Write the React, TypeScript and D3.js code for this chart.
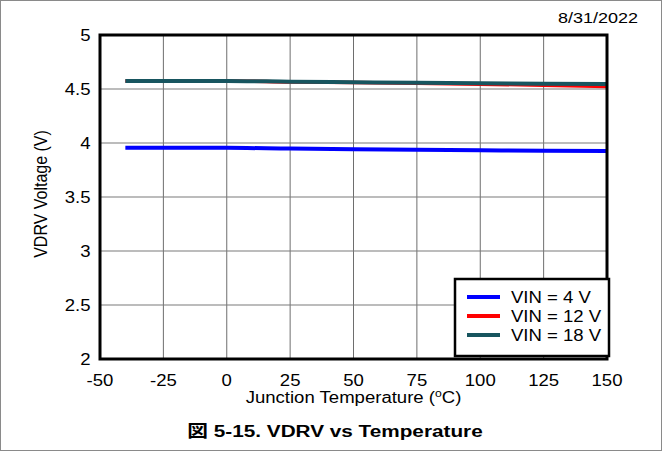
import React from "react";
import * as d3 from "d3";

const W = 662;
const H = 451;

const temps = [-40, 0, 25, 50, 75, 100, 125, 150];
const vin4 = [3.955, 3.955, 3.948, 3.943, 3.938, 3.933, 3.928, 3.927];
const vin12 = [4.575, 4.575, 4.565, 4.56, 4.553, 4.545, 4.535, 4.522];
const vin18 = [4.575, 4.575, 4.568, 4.563, 4.558, 4.554, 4.549, 4.546];

const seriesNames = ["VIN = 4 V", "VIN = 12 V", "VIN = 18 V"];
const seriesColors = ["#0000ff", "#ff0000", "#17555f"];
const seriesValues = [vin4, vin12, vin18];

const xTicks = [-50, -25, 0, 25, 50, 75, 100, 125, 150];
const yTicks = [2, 2.5, 3, 3.5, 4, 4.5, 5];

const FONT = "Arial, 'Liberation Sans', Helvetica, sans-serif";
const SX = 1.16; // reference text is a bit wider than Arial

type LabelProps = {
  x: number;
  y: number;
  size?: number;
  anchor?: string;
  bold?: boolean;
  sx?: number;
  children?: React.ReactNode;
};

// text stretched horizontally around its anchor point
const Label = ({ x, y, size = 16, anchor = "start", bold = false, sx = SX, children }: LabelProps) => (
  <text
    transform={`translate(${x},${y}) scale(${sx},1)`}
    fontSize={size}
    fontWeight={bold ? "bold" : "normal"}
    textAnchor={anchor}
    fill="#000"
  >
    {children}
  </text>
);

const App = () => {
  const margin = { left: 100, right: 55, top: 35, bottom: 92 };

  const x = d3
    .scaleLinear()
    .domain([-50, 150])
    .range([margin.left, W - margin.right]);
  const y = d3
    .scaleLinear()
    .domain([2, 5])
    .range([H - margin.bottom, margin.top]);

  const line = d3
    .line<number>()
    .x((d, i) => x(temps[i]))
    .y(d => y(d))
    .curve(d3.curveMonotoneX);

  const x0 = x(-50), x1 = x(150), y0 = y(2), y1 = y(5);
  const lgX = 455, lgY = 279, lgW = 154, lgH = 77;

  return (
    <svg
      width={W}
      height={H}
      style={{ position: "absolute", left: 0, top: 0, background: "#fff" }}
      fontFamily={FONT}
    >
      <rect x={0.5} y={0.5} width={W - 1} height={H - 1} fill="#fff" stroke="#8a8a8a" />

      <Label x={638} y={23} size={15} anchor="end" sx={1.2}>8/31/2022</Label>

      {/* grid */}
      {xTicks.slice(1, -1).map(t => (
        <line key={"gx" + t} x1={x(t)} x2={x(t)} y1={y1} y2={y0} stroke="#6e6e6e" strokeWidth={1} />
      ))}
      {yTicks.slice(1, -1).map(t => (
        <line key={"gy" + t} x1={x0} x2={x1} y1={y(t)} y2={y(t)} stroke="#7a7a7a" strokeWidth={1.2} />
      ))}

      {/* series */}
      {seriesValues.map((vals, i) => (
        <path
          key={"s" + i}
          d={line(vals) || ""}
          fill="none"
          stroke={seriesColors[i]}
          strokeWidth={i === 1 ? 3.5 : 4}
        />
      ))}

      {/* frame */}
      <rect x={x0} y={y1} width={x1 - x0} height={y0 - y1} fill="none" stroke="#000" strokeWidth={3} />

      {/* tick labels */}
      {yTicks.map(t => (
        <Label key={"yl" + t} x={x0 - 9.5} y={y(t) + 5.5} anchor="end">
          {t}
        </Label>
      ))}
      {xTicks.map(t => (
        <Label key={"xl" + t} x={x(t)} y={y0 + 27} anchor="middle">
          {t}
        </Label>
      ))}

      {/* axis titles */}
      <Label x={(x0 + x1) / 2} y={y0 + 44} anchor="middle">
        Junction Temperature (<tspan fontSize={10.5} dy={-6.5}>o</tspan>
        <tspan dy={6.5}>C)</tspan>
      </Label>
      <text
        transform={`translate(47, ${(y0 + y1) / 2 - 3}) rotate(-90) scale(1, ${SX})`}
        fontSize={16}
        textAnchor="middle"
        fill="#000"
      >
        VDRV Voltage (V)
      </text>

      {/* legend */}
      <rect x={lgX} y={lgY} width={lgW} height={lgH} fill="#fff" stroke="#000" strokeWidth={2.5} />
      {seriesNames.map((n, i) => (
        <g key={"lg" + i} transform={`translate(${lgX}, ${lgY + 18 + i * 19})`}>
          <line x1={12} x2={45} y1={0} y2={0} stroke={seriesColors[i]} strokeWidth={4} />
          <Label x={56} y={5.5}>{n}</Label>
        </g>
      ))}

      <g fontFamily={"Arial, 'Liberation Sans', 'Noto Sans CJK JP', sans-serif"}>
        <Label x={335} y={437} size={17} bold anchor="middle" sx={1.22}>
          図 5-15. VDRV vs Temperature
        </Label>
      </g>
    </svg>
  );
};

export default App;
